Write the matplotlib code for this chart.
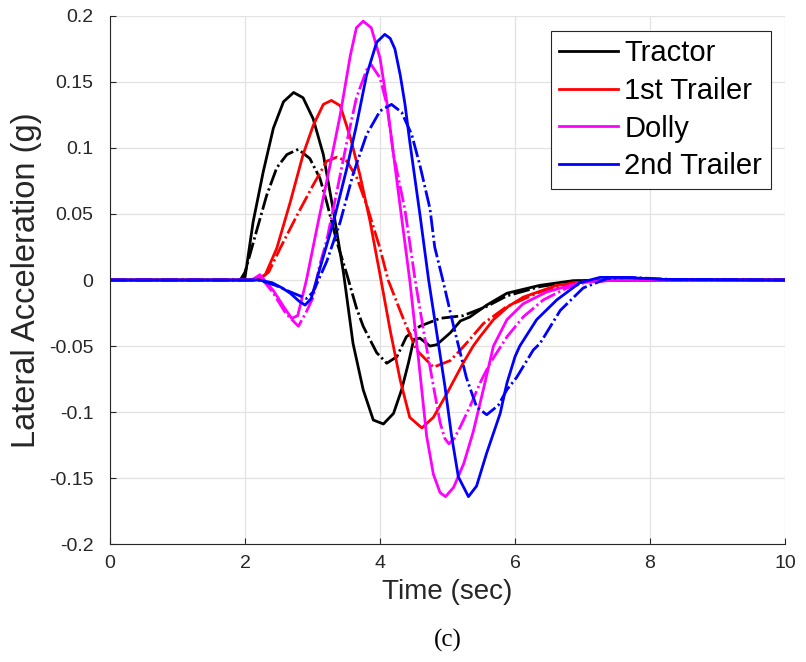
import matplotlib
matplotlib.use("Agg")
import matplotlib.pyplot as plt

# values (time in sec, lateral acceleration in g)
t_tractor = [0, 1.95, 2.0, 2.12, 2.27, 2.42, 2.57, 2.72, 2.86, 3.01, 3.16, 3.31, 3.46, 3.6, 3.75,
             3.9, 4.05, 4.2, 4.32, 4.42, 4.5, 4.59, 4.74, 4.84, 5.04, 5.19, 5.33, 5.58, 5.88, 6.37,
             6.86, 7.5, 10]
a_tractor = [0, 0, 0.002, 0.044, 0.082, 0.115, 0.135, 0.142, 0.138, 0.122, 0.095, 0.052, 0.005, -0.048, -0.083,
             -0.106, -0.109, -0.101, -0.083, -0.063, -0.045, -0.044, -0.05, -0.049, -0.040, -0.031, -0.028, -0.019, -0.010, -0.004,
             -0.0005, 0, 0]

t_tractor_d = [0, 1.93, 2.0, 2.17, 2.32, 2.47, 2.62, 2.79, 2.96, 3.11, 3.21, 3.36, 3.51, 3.65, 3.75,
               3.95, 4.1, 4.25, 4.39, 4.59, 4.89, 5.23, 5.58, 5.88, 6.37, 6.86, 7.5, 10]
a_tractor_d = [0, 0, 0.006, 0.037, 0.064, 0.085, 0.095, 0.099, 0.092, 0.077, 0.059, 0.029, 0.004, -0.021, -0.035,
               -0.055, -0.063, -0.058, -0.043, -0.035, -0.029, -0.027, -0.020, -0.012, -0.005, -0.001, 0, 0]

t_trailer1 = [0, 2.15, 2.3, 2.47, 2.67, 2.86, 3.01, 3.16, 3.28, 3.41, 3.56, 3.7, 3.85, 4.0, 4.15,
              4.3, 4.44, 4.62, 4.79, 4.99, 5.23, 5.38, 5.48, 5.68, 5.9, 6.12, 6.62, 7.1, 7.6, 10]
a_trailer1 = [0, 0, 0.004, 0.024, 0.059, 0.095, 0.117, 0.133, 0.136, 0.132, 0.108, 0.08, 0.045, 0.004, -0.038,
              -0.076, -0.104, -0.112, -0.104, -0.086, -0.063, -0.05, -0.043, -0.030, -0.020, -0.013, -0.004, -0.001, 0, 0]

t_trailer1_d = [0, 2.2, 2.35, 2.52, 2.77, 3.01, 3.21, 3.36, 3.51, 3.66, 3.8, 4.0, 4.12, 4.35, 4.54,
                4.79, 5.04, 5.19, 5.33, 5.53, 5.88, 6.37, 6.86, 7.5, 10]
a_trailer1_d = [0, 0, 0.006, 0.024, 0.049, 0.072, 0.09, 0.093, 0.09, 0.077, 0.057, 0.024, 0.0, -0.03, -0.053,
                -0.066, -0.061, -0.053, -0.045, -0.033, -0.020, -0.009, -0.002, 0, 0]

t_dolly = [0, 2.1, 2.22, 2.42, 2.57, 2.69, 2.78, 2.91, 3.06, 3.26, 3.41, 3.56, 3.65, 3.75, 3.87,
           4.0, 4.1, 4.2, 4.3, 4.44, 4.57, 4.69, 4.79, 4.89, 4.97, 5.09, 5.24, 5.38, 5.53, 5.68,
           5.88, 6.12, 6.47, 6.96, 7.5, 10]
a_dolly = [0, 0, 0.004, -0.008, -0.020, -0.029, -0.027, 0.0, 0.038, 0.087, 0.125, 0.170, 0.191, 0.196, 0.191,
           0.168, 0.135, 0.095, 0.055, 0.0, -0.06, -0.118, -0.147, -0.161, -0.164, -0.157, -0.139, -0.115, -0.083, -0.050,
           -0.030, -0.018, -0.009, -0.002, 0, 0]

t_dolly_d = [0, 2.1, 2.22, 2.42, 2.6, 2.79, 2.9, 3.01, 3.1, 3.21, 3.36, 3.51, 3.65, 3.8, 3.87,
             4.0, 4.1, 4.2, 4.37, 4.52, 4.65, 4.79, 4.89, 4.96, 5.02, 5.1, 5.19, 5.33, 5.5, 5.63,
             5.88, 6.12, 6.42, 6.77, 7.1, 7.5, 10]
a_dolly_d = [0, 0, 0.003, -0.01, -0.025, -0.035, -0.025, -0.013, 0.01, 0.03, 0.067, 0.105, 0.138, 0.159, 0.163,
             0.153, 0.133, 0.095, 0.053, 0.0, -0.04, -0.08, -0.108, -0.12, -0.124, -0.12, -0.111, -0.096, -0.076, -0.063,
             -0.043, -0.028, -0.015, -0.006, -0.001, 0, 0]

t_trailer2 = [0, 2.2, 2.4, 2.55, 2.67, 2.8, 2.89, 2.98, 3.11, 3.31, 3.51, 3.65, 3.8, 3.95, 4.07,
              4.15, 4.22, 4.3, 4.37, 4.44, 4.59, 4.72, 4.84, 4.96, 5.06, 5.16, 5.31, 5.43, 5.58, 5.78,
              5.88, 6.0, 6.07, 6.32, 6.62, 6.96, 7.26, 7.6, 8.2, 10]
a_trailer2 = [0, 0, -0.002, -0.006, -0.010, -0.016, -0.019, -0.014, 0.009, 0.044, 0.085, 0.117, 0.155, 0.18, 0.186,
              0.183, 0.175, 0.155, 0.133, 0.105, 0.05, 0.0, -0.04, -0.08, -0.118, -0.149, -0.164, -0.156, -0.131, -0.101,
              -0.078, -0.058, -0.050, -0.030, -0.015, -0.002, 0.002, 0.002, 0.0005, 0]

t_trailer2_d = [0, 2.2, 2.45, 2.67, 2.91, 3.01, 3.21, 3.41, 3.6, 3.8, 4.0, 4.17, 4.32, 4.47, 4.59,
                4.74, 4.81, 4.93, 5.09, 5.28, 5.43, 5.58, 5.75, 5.88, 6.02, 6.27, 6.37, 6.67, 7.01, 7.36,
                7.7, 8.3, 10]
a_trailer2_d = [0, 0, -0.004, -0.009, -0.014, -0.009, 0.014, 0.044, 0.080, 0.110, 0.128, 0.133, 0.127, 0.110, 0.087,
                0.054, 0.025, 0.0, -0.035, -0.074, -0.096, -0.102, -0.095, -0.083, -0.074, -0.053, -0.048, -0.023, -0.006, 0.001,
                0.002, 0.0005, 0]

labels = ["Tractor", "1st Trailer", "Dolly", "2nd Trailer"]
colors = ["#000000", "#ff0000", "#ff00ff", "#0000ff"]
x_ticks = [0, 2, 4, 6, 8, 10]
y_ticks = [-0.2, -0.15, -0.1, -0.05, 0, 0.05, 0.1, 0.15, 0.2]
y_tick_labels = ["-0.2", "-0.15", "-0.1", "-0.05", "0", "0.05", "0.1", "0.15", "0.2"]

plt.rcParams["font.family"] = ["Liberation Sans", "DejaVu Sans"]

fig = plt.figure(figsize=(8.06, 6.62), dpi=100)
ax = fig.add_axes([0.1365, 0.178, 0.8375, 0.798])

series = [
    (t_tractor, a_tractor, t_tractor_d, a_tractor_d),
    (t_trailer1, a_trailer1, t_trailer1_d, a_trailer1_d),
    (t_dolly, a_dolly, t_dolly_d, a_dolly_d),
    (t_trailer2, a_trailer2, t_trailer2_d, a_trailer2_d),
]
handles = []
for (ts, ys, td, yd), lab, c in zip(series, labels, colors):
    h, = ax.plot(ts, ys, color=c, lw=2.0, label=lab, solid_joinstyle="round")
    ax.plot(td, yd, color=c, lw=2.0, linestyle=(0, (6, 1.2, 0.8, 1.2)))
    handles.append(h)

ax.set_xlim(0, 10)
ax.set_ylim(-0.2, 0.2)
ax.set_xticks(x_ticks)
ax.set_xticklabels([str(v) for v in x_ticks])
ax.set_yticks(y_ticks)
ax.set_yticklabels(y_tick_labels)
ax.grid(True, color="#e2e2e2", lw=0.9)
ax.set_axisbelow(True)
for s in ["top", "right"]:
    ax.spines[s].set_visible(False)
for s in ["left", "bottom"]:
    ax.spines[s].set_color("#262626")
    ax.spines[s].set_linewidth(0.8)
ax.tick_params(direction="in", length=4, width=0.8, colors="#262626", labelsize=14)
ax.tick_params(axis="y", pad=12)
ax.tick_params(axis="x", pad=8)

ax.set_xlabel("Time (sec)", fontsize=20, color="#262626", labelpad=5)
ax.set_ylabel("Lateral Acceleration (g)", fontsize=23.5, color="#262626", labelpad=5)

leg = ax.legend(handles=handles, loc="upper right", bbox_to_anchor=(0.979, 0.972),
                fontsize=21, frameon=True, fancybox=False, framealpha=1,
                edgecolor="#262626", handlelength=2.0, handletextpad=0.22,
                labelspacing=0.33, borderpad=0.3, borderaxespad=0)
leg.get_frame().set_linewidth(0.8)

fig.text(448 / 806, 1 - 640 / 662, "(c)", ha="center", va="center",
         fontsize=18, family=["Liberation Serif", "DejaVu Serif"])

fig.savefig("out.png", dpi=100)
